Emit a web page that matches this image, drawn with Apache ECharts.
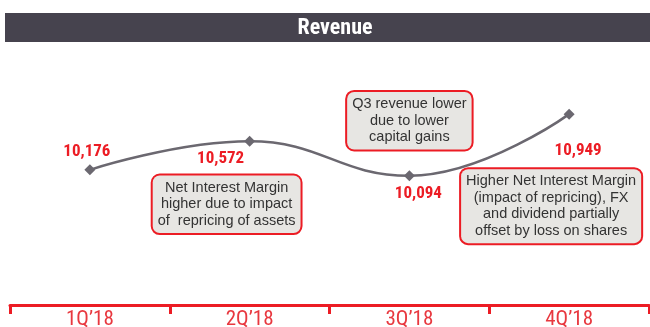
<!DOCTYPE html>
<html>
<head>
<meta charset="utf-8">
<script src="https://cdn.jsdelivr.net/npm/echarts@6/dist/echarts.min.js"></script>
<style>
  html, body { margin: 0; padding: 0; background: #ffffff; }
  #chart { width: 650px; height: 327px; }
</style>
</head>
<body>
<div id="chart"></div>
<script>
// Quarterly revenue
const quarters = ['1Q\u201918', '2Q\u201918', '3Q\u201918', '4Q\u201918'];
const revenue = [10176, 10572, 10094, 10949];

// Where each value label sits relative to its point
const labelOffsets = [[-3, -18], [-29, 17], [9, 18], [9, 37]];

// Commentary boxes, attached to a quarter, offset from its point
const notes = [
  { quarter: 1, dx: -23, dy: 63, lines: ['Net Interest Margin', 'higher due to impact', 'of  repricing of assets'] },
  { quarter: 2, dx: 0, dy: -55, lines: ['Q3 revenue lower', 'due to lower', 'capital gains'] },
  { quarter: 3, dx: -18, dy: 92, lines: ['Higher Net Interest Margin', '(impact of repricing), FX', 'and dividend partially', 'offset by loss on shares'] }
];

const RED = '#ec1c24';
const LINE = '#6b6870';
const COND = '"Roboto Condensed", "Liberation Sans", sans-serif';

const chart = echarts.init(document.getElementById('chart'), null, { renderer: 'canvas' });

const fmt = v => v.toLocaleString('en-US');

chart.setOption({
  animation: false,
  backgroundColor: '#ffffff',
  grid: { left: 10, right: 1, top: 42, bottom: 22, containLabel: false, outerBoundsMode: 'none' },
  xAxis: {
    type: 'category',
    data: quarters,
    boundaryGap: true,
    axisLine: { show: true, lineStyle: { color: RED, width: 3 } },
    axisTick: { show: true, length: 9, lineStyle: { color: RED, width: 3 } },
    axisLabel: {
      color: '#e8383f',
      fontFamily: COND,
      fontSize: 21,
      verticalAlign: 'top',
      lineHeight: 21,
      margin: 4
    },
    splitLine: { show: false }
  },
  yAxis: {
    type: 'value',
    min: 8300,
    max: 11950,
    show: false,
    splitLine: { show: false }
  },
  series: [{
    type: 'line',
    smooth: 0.45,
    data: revenue.map((v, i) => ({
      value: v,
      label: { offset: labelOffsets[i] }
    })),
    symbol: 'diamond',
    symbolSize: [11, 11],
    itemStyle: { color: LINE },
    lineStyle: { color: LINE, width: 2.5 },
    label: {
      show: true,
      position: 'inside',
      formatter: p => fmt(p.value),
      color: '#ec1c24',
      fontFamily: COND,
      fontWeight: 'bold',
      fontSize: 17
    }
  }]
});

function drawGraphics() {
  const elements = [
    {
      type: 'rect',
      shape: { x: 5, y: 13, width: 645, height: 29 },
      style: { fill: '#46434e' },
      silent: true
    },
    {
      type: 'text',
      x: 335,
      y: 28,
      style: {
        text: 'Revenue',
        align: 'center',
        verticalAlign: 'middle',
        fill: '#ffffff',
        font: 'bold 22px ' + COND
      },
      silent: true
    }
  ];
  notes.forEach(n => {
    const p = chart.convertToPixel({ seriesIndex: 0 }, [n.quarter, revenue[n.quarter]]);
    elements.push({
      type: 'text',
      x: p[0] + n.dx,
      y: p[1] + n.dy,
      z: 10,
      style: {
        text: n.lines.join('\n'),
        align: 'center',
        verticalAlign: 'middle',
        fill: '#333333',
        font: '14.5px "Liberation Sans", Arial, sans-serif',
        lineHeight: 16.5,
        backgroundColor: '#e7e6e3',
        borderColor: RED,
        borderWidth: 2,
        borderRadius: 7,
        padding: [4, 5, 4, 5]
      },
      silent: true
    });
  });
  chart.setOption({ graphic: { elements } });
}
drawGraphics();
</script>
</body>
</html>
